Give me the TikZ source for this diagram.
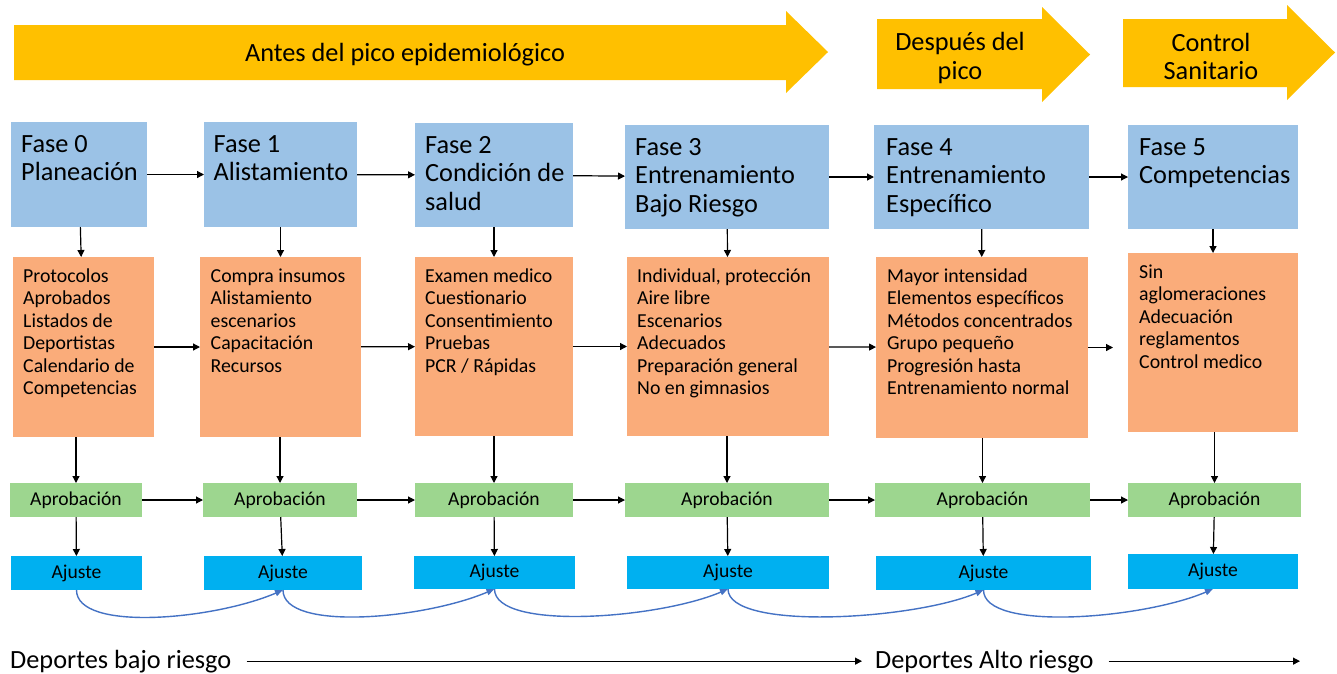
\documentclass[tikz,border=0pt]{standalone}
\usepackage{fontspec}
\setmainfont{Carlito}
\usetikzlibrary{arrows.meta, positioning}

\definecolor{amarillo}{RGB}{255,192,0}
\definecolor{azulfase}{RGB}{155,194,230}
\definecolor{naranja}{RGB}{250,172,122}
\definecolor{verde}{RGB}{157,214,143}
\definecolor{cian}{RGB}{0,176,240}
\definecolor{azulcurva}{RGB}{68,114,196}

\begin{document}
\begin{tikzpicture}[
		x=1pt, y=-1pt,
		caja/.style={anchor=north west, inner sep=0pt, outer sep=0pt},
		fase/.style={caja, fill=azulfase},
		tarea/.style={caja, fill=naranja},
		aprob/.style={caja, fill=verde, font=\fontsize{19.6}{22}\selectfont},
		ajuste/.style={caja, fill=cian, font=\fontsize{19.6}{22}\selectfont},
		titulo/.style={inner sep=0pt, align=left, font=\fontsize{26.3}{28.5}\selectfont},
		lista/.style={inner sep=0pt, align=left, font=\fontsize{19.8}{22.5}\selectfont},
		etapa/.style={inner sep=0pt, align=center, font=\fontsize{26.3}{28.5}\selectfont},
		conn/.style={-{Triangle[length=7pt,width=7pt]}, line width=1.2pt},
		curva/.style={-{Triangle[length=8pt,width=6pt]}, line width=1.4pt, draw=azulcurva}
		]
		\useasboundingbox (0,0) rectangle (1337,673);
		
		% flechas de etapas
		\fill[amarillo] (14,25) -- (786,25) -- (786,11) -- (828,52) -- (786,93) -- (786,80) -- (14,80) -- cycle;
		\fill[amarillo] (877,19) -- (1042,19) -- (1042,7) -- (1090,54.5) -- (1042,102) -- (1042,89) -- (877,89) -- cycle;
		\fill[amarillo] (1123,19) -- (1287,19) -- (1287,5) -- (1335,52.5) -- (1287,100) -- (1287,87) -- (1123,87) -- cycle;
		\node[etapa] (e1) at (405,55) {Antes del pico epidemiológico};
		\node[etapa] (e2) at (960,58) {Después del\\pico};
		\node[etapa] (e3) at (1211,56.5) {Control\\Sanitario};
		
		% fases
		\node[fase, minimum width=136, minimum height=105] (f0) at (11,122) {};
		\node[fase, minimum width=153, minimum height=105] (f1) at (204,122) {};
		\node[fase, minimum width=158, minimum height=104] (f2) at (415,123) {};
		\node[fase, minimum width=204, minimum height=104] (f3) at (625,125) {};
		\node[fase, minimum width=215, minimum height=104] (f4) at (874,125) {};
		\node[fase, minimum width=170, minimum height=104] (f5) at (1128,125) {};
		\node[titulo, below right=13pt and 10pt of f0.north west] (f0t) {Fase 0\\Planeación};
		\node[titulo, below right=13pt and 9.5pt of f1.north west] (f1t) {Fase 1\\Alistamiento};
		\node[titulo, below right=13pt and 10pt of f2.north west] (f2t) {Fase 2\\Condición de\\salud};
		\node[titulo, below right=13pt and 10pt of f3.north west] (f3t) {Fase 3\\Entrenamiento\\Bajo Riesgo};
		\node[titulo, below right=13pt and 12pt of f4.north west] (f4t) {Fase 4\\Entrenamiento\\Específico};
		\node[titulo, below right=13pt and 11pt of f5.north west] (f5t) {Fase 5\\Competencias};
		
		% tareas
		\node[tarea, minimum width=141, minimum height=180] (o0) at (13,257) {};
		\node[tarea, minimum width=161, minimum height=180] (o1) at (200,257) {};
		\node[tarea, minimum width=158, minimum height=179] (o2) at (415,257) {};
		\node[tarea, minimum width=202, minimum height=179] (o3) at (627,257) {};
		\node[tarea, minimum width=212, minimum height=181] (o4) at (876,257) {};
		\node[tarea, minimum width=170, minimum height=179] (o5) at (1128,253) {};
		\node[lista, below right=11.5pt and 10pt of o0.north west] (o0t) {Protocolos\\Aprobados\\Listados de\\Deportistas\\Calendario de\\Competencias};
		\node[lista, below right=11.5pt and 10.5pt of o1.north west] (o1t) {Compra insumos\\Alistamiento\\escenarios\\Capacitación\\Recursos};
		\node[lista, below right=11.5pt and 10pt of o2.north west] (o2t) {Examen medico\\Cuestionario\\Consentimiento\\Pruebas\\PCR / Rápidas};
		\node[lista, below right=11.5pt and 10pt of o3.north west] (o3t) {Individual, protección\\Aire libre\\Escenarios\\Adecuados\\Preparación general\\No en gimnasios};
		\node[lista, below right=11.5pt and 11pt of o4.north west] (o4t) {Mayor intensidad\\Elementos específicos\\Métodos concentrados\\Grupo pequeño\\Progresión hasta\\Entrenamiento normal};
		\node[lista, below right=11.5pt and 11pt of o5.north west] (o5t) {Sin\\aglomeraciones\\Adecuación\\reglamentos\\Control medico};
		
		% aprobacion y ajuste
		\node[aprob, minimum width=132, minimum height=34] (g0) at (10,483) {Aprobación};
		\node[aprob, minimum width=154, minimum height=34] (g1) at (203,483) {Aprobación};
		\node[aprob, minimum width=158, minimum height=34] (g2) at (415,483) {Aprobación};
		\node[aprob, minimum width=204, minimum height=34] (g3) at (625,483) {Aprobación};
		\node[aprob, minimum width=215, minimum height=34] (g4) at (875,483) {Aprobación};
		\node[aprob, minimum width=173, minimum height=34] (g5) at (1128,483) {Aprobación};
		\node[ajuste, minimum width=131, minimum height=34] (a0) at (11,556) {Ajuste};
		\node[ajuste, minimum width=158, minimum height=34] (a1) at (204,556) {Ajuste};
		\node[ajuste, minimum width=161, minimum height=33] (a2) at (414,556) {Ajuste};
		\node[ajuste, minimum width=202, minimum height=33] (a3) at (627,556) {Ajuste};
		\node[ajuste, minimum width=215, minimum height=34] (a4) at (876,556) {Ajuste};
		\node[ajuste, minimum width=170, minimum height=35] (a5) at (1128,554) {Ajuste};
		
		% conexiones
		\foreach \i/\j in {0/1,1/2,2/3,3/4,4/5} {
			\draw[conn] (f\i) -- (f\j);
			\draw[conn] (g\i) -- (g\j);
			\draw[curva] (a\i.south) .. controls +(0,42) and +(-70,30) .. (a\j.south);
		}
		\foreach \i/\j in {0/1,1/2,2/3,3/4}
			\draw[conn] (o\i) -- (o\j);
		\draw[conn, shorten >=15pt] (o4) -- (o4 -| o5.west);
		\foreach \i in {0,...,5} {
			\draw[conn] (f\i) -- (o\i);
			\draw[conn] (o\i.south -| g\i) -- (g\i);
			\draw[conn] (g\i) -- (a\i);
		}
		
		% riesgo
		\node[titulo, anchor=base west] (dbr) at (10,668) {Deportes bajo riesgo};
		\node[titulo, anchor=base west] (dar) at (875,668) {Deportes Alto riesgo};
		\coordinate (fin) at (1300,661);
		\draw[conn, shorten <=15pt, shorten >=13pt] (dbr) -- (dar);
		\draw[conn, shorten <=15pt] (dar) -- (dar -| fin);
	\end{tikzpicture}
\end{document}
